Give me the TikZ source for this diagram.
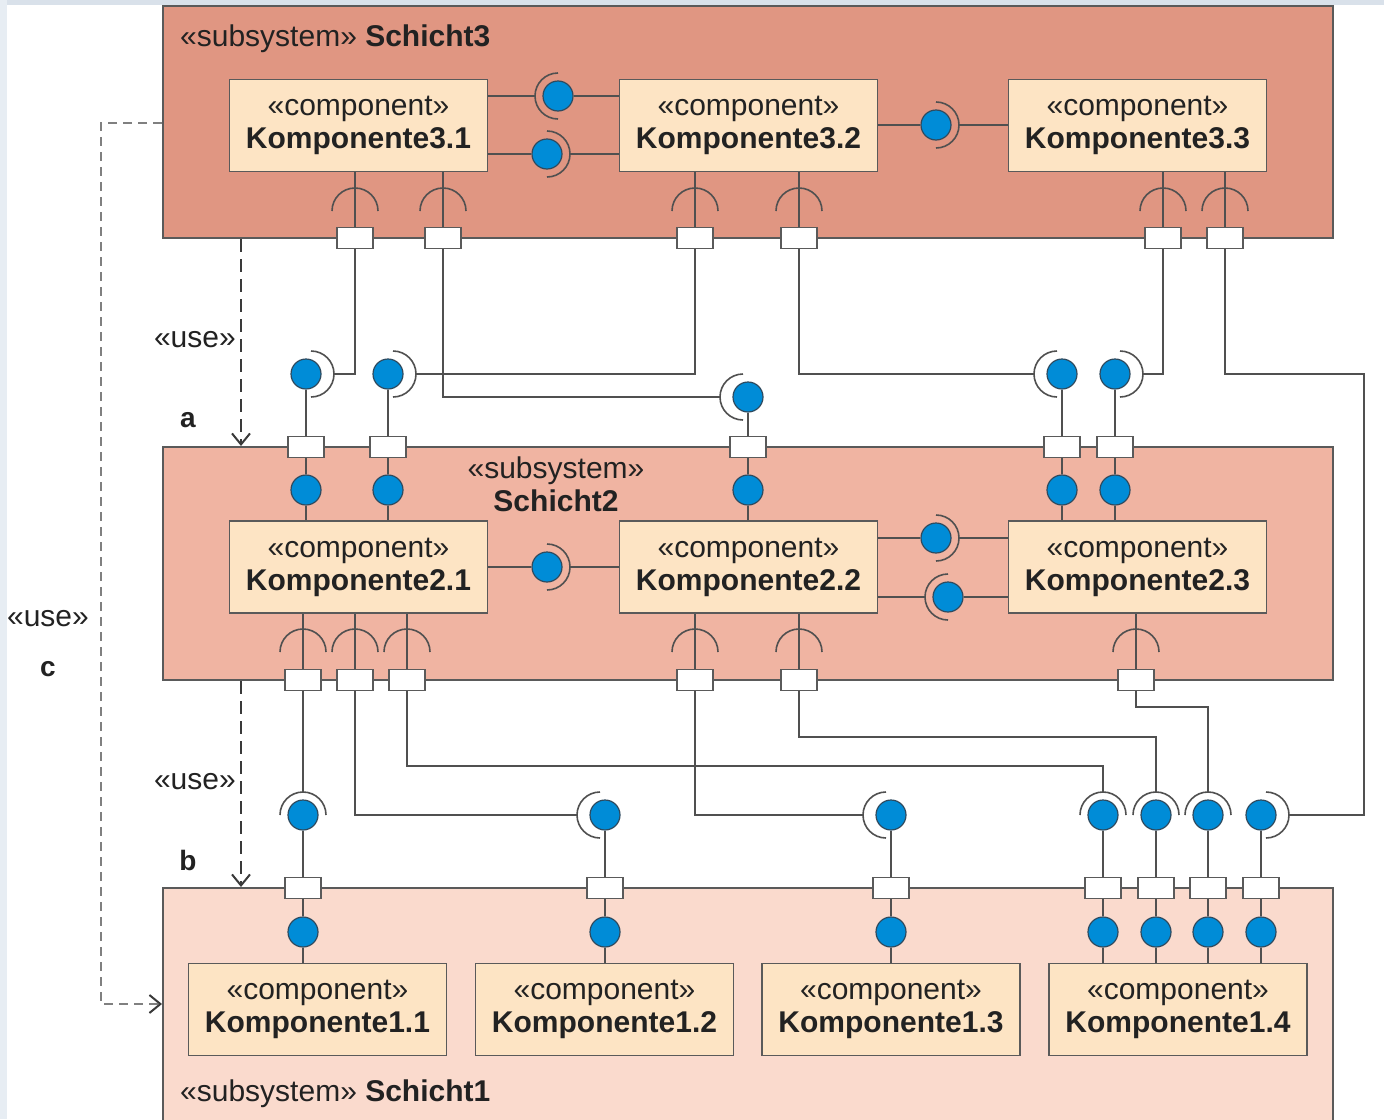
\documentclass[tikz,border=0pt]{standalone}
\usepackage{fontspec}
\setmainfont{Liberation Sans}
\usetikzlibrary{arrows.meta}

\definecolor{layerthree}{HTML}{E09682}
\definecolor{layertwo}{HTML}{F0B4A2}
\definecolor{layerone}{HTML}{FADACD}
\definecolor{compfill}{HTML}{FDE4C4}
\definecolor{ballblue}{HTML}{008CD7}
\definecolor{balledge}{HTML}{2F4A5E}
\definecolor{edgegray}{HTML}{5A5A5A}
\definecolor{wiregray}{HTML}{505050}
\definecolor{textdark}{HTML}{222222}
\definecolor{dashgray}{HTML}{3A3A3A}
\definecolor{dashlight}{HTML}{808080}
\definecolor{frametop}{HTML}{D9E1EA}
\definecolor{frameside}{HTML}{E7EDF3}

% socket arc around a ball: #1 ball, #2 direction, #3 offset of the arc centre
\newcommand\sockarc[3]{%
  \draw[sock] (#1.center) ++({#2}:{#3}) ++({#2-90}:23) arc[start angle={#2-90}, end angle={#2+90}, radius=23];
  \path (#1.center) ++({#2}:{#3+23}) coordinate (#1-tip);}

\begin{document}
\begin{tikzpicture}[x=1pt,y=-1pt,
  txt/.style={font=\fontsize{30}{33}\selectfont, text=textdark, inner sep=0pt},
  layerbox/.style={draw=edgegray, line width=2pt, inner sep=0pt},
  comp/.style={txt, draw=edgegray, fill=compfill, line width=1.8pt,
    minimum width=258, minimum height=92, align=center},
  port/.style={draw=edgegray, fill=white, line width=1.8pt,
    minimum width=36, minimum height=21, inner sep=0pt},
  ball/.style={circle, draw=balledge, fill=ballblue, line width=1.2pt,
    minimum size=30, inner sep=0pt},
  wire/.style={draw=wiregray, line width=1.8pt},
  sock/.style={draw=wiregray, line width=1.6pt},
  usedep/.style={draw=dashgray, line width=1.6pt, dash pattern=on 13pt off 7pt,
    -{Straight Barb[length=11pt,width=18pt,line width=2pt,color=dashgray]}},
  letter/.style={font=\fontsize{28}{30}\selectfont\bfseries, text=textdark, inner sep=0pt}]
\useasboundingbox (0,0) rectangle (1384,1119);

% window frame strips
\fill[frametop] (0,0) rectangle (1384,5);
\fill[frameside] (0,0) rectangle (7,1119);

% layers
\node[layerbox, fill=layerthree, minimum width=1170, minimum height=232] (s3) at (748,122) {};
\node[layerbox, fill=layertwo, minimum width=1170, minimum height=233] (s2) at (748,563.5) {};
\node[layerbox, fill=layerone, minimum width=1170, minimum height=250] (s1) at (748,1013) {};

\node[txt, anchor=base west] (t3) at (180,46) {«subsystem» \textbf{Schicht3}};
\node[txt, align=center] (t2) at (556,484) {«subsystem»\\\textbf{Schicht2}};
\node[txt, anchor=base west] (t1) at (180,1101) {«subsystem» \textbf{Schicht1}};

% components
\node[comp] (c31) at (358.5,125.5) {«component»\\\textbf{Komponente3.1}};
\node[comp] (c32) at (748.5,125.5) {«component»\\\textbf{Komponente3.2}};
\node[comp] (c33) at (1137.5,125.5) {«component»\\\textbf{Komponente3.3}};
\node[comp] (c21) at (358.5,567) {«component»\\\textbf{Komponente2.1}};
\node[comp] (c22) at (748.5,567) {«component»\\\textbf{Komponente2.2}};
\node[comp] (c23) at (1137.5,567) {«component»\\\textbf{Komponente2.3}};
\node[comp] (c11) at (317.5,1009.5) {«component»\\\textbf{Komponente1.1}};
\node[comp] (c12) at (604.5,1009.5) {«component»\\\textbf{Komponente1.2}};
\node[comp] (c13) at (891,1009.5) {«component»\\\textbf{Komponente1.3}};
\node[comp] (c14) at (1178,1009.5) {«component»\\\textbf{Komponente1.4}};

% ports of Schicht3
\foreach \n/\x in {p3a/355,p3b/443,p3c/695,p3d/799,p3e/1163,p3f/1225}
  \node[port] (\n) at (\x,238) {};
% ports of Schicht2
\foreach \n/\x in {q2a/306,q2b/388,q2c/748,q2d/1062,q2e/1115}
  \node[port] (\n) at (\x,447) {};
\foreach \n/\x in {p2a/303,p2b/355,p2c/407,p2d/695,p2e/799,p2f/1136}
  \node[port] (\n) at (\x,680) {};
% ports of Schicht1
\foreach \n/\x in {q1a/303,q1b/605,q1c/891,q1d/1103,q1e/1156,q1f/1208,q1g/1261}
  \node[port] (\n) at (\x,888) {};

% required interfaces inside Schicht3 and Schicht2
\foreach \p/\c in {p3a/c31,p3b/c31,p3c/c32,p3d/c32,p3e/c33,p3f/c33}{
  \draw[wire] (\p.north) -- (\p.north |- \c.south);
  \draw[sock] (\p.center) ++(-23,-27) arc[start angle=180, end angle=360, radius=23];
}
\foreach \p/\c in {p2a/c21,p2b/c21,p2c/c21,p2d/c22,p2e/c22,p2f/c23}{
  \draw[wire] (\p.north) -- (\p.north |- \c.south);
  \draw[sock] (\p.center) ++(-23,-28) arc[start angle=180, end angle=360, radius=23];
}

% assembly connectors inside Schicht3
\node[ball] (bA) at (558,96) {};
\node[ball] (bB) at (547,154) {};
\node[ball] (bC) at (936,125) {};
\sockarc{bA}{180}{0}
\sockarc{bB}{0}{0}
\sockarc{bC}{0}{0}
\draw[wire] (bA.center -| c31.east) -- (bA-tip);
\draw[wire] (bA.east) -- (bA.center -| c32.west);
\draw[wire] (bB.center -| c31.east) -- (bB.west);
\draw[wire] (bB-tip) -- (bB.center -| c32.west);
\draw[wire] (bC.center -| c32.east) -- (bC.west);
\draw[wire] (bC-tip) -- (bC.center -| c33.west);

% assembly connectors inside Schicht2
\node[ball] (bD) at (547,567) {};
\node[ball] (bE) at (936,538) {};
\node[ball] (bF) at (948,597) {};
\sockarc{bD}{0}{0}
\sockarc{bE}{0}{0}
\sockarc{bF}{180}{0}
\draw[wire] (bD.center -| c21.east) -- (bD.west);
\draw[wire] (bD-tip) -- (bD.center -| c22.west);
\draw[wire] (bE.center -| c22.east) -- (bE.west);
\draw[wire] (bE-tip) -- (bE.center -| c23.west);
\draw[wire] (bF.center -| c22.east) -- (bF-tip);
\draw[wire] (bF.east) -- (bF.center -| c23.west);

% provided interfaces of Schicht2
\foreach \n/\x in {i2a/306,i2b/388,i2c/748,i2d/1062,i2e/1115}
  \node[ball] (\n) at (\x,490) {};
\node[ball] (o2a) at (306,374) {};
\node[ball] (o2b) at (388,374) {};
\node[ball] (o2c) at (748,397) {};
\node[ball] (o2d) at (1062,374) {};
\node[ball] (o2e) at (1115,374) {};
\sockarc{o2a}{0}{5}
\sockarc{o2b}{0}{5}
\sockarc{o2c}{180}{5}
\sockarc{o2d}{180}{5}
\sockarc{o2e}{0}{5}
\foreach \q/\i/\o/\c in {q2a/i2a/o2a/c21,q2b/i2b/o2b/c21,q2c/i2c/o2c/c22,q2d/i2d/o2d/c23,q2e/i2e/o2e/c23}{
  \draw[wire] (\q.north) -- (\o.south);
  \draw[wire] (\q.south) -- (\i.north);
  \draw[wire] (\i.south) -- (\i.south |- \c.north);
}

% provided interfaces of Schicht1
\foreach \n/\x in {i1a/303,i1b/605,i1c/891,i1d/1103,i1e/1156,i1f/1208,i1g/1261}
  \node[ball] (\n) at (\x,932) {};
\foreach \n/\x in {o1a/303,o1b/605,o1c/891,o1d/1103,o1e/1156,o1f/1208,o1g/1261}
  \node[ball] (\n) at (\x,815) {};
\sockarc{o1a}{270}{0}
\sockarc{o1b}{180}{5}
\sockarc{o1c}{180}{5}
\sockarc{o1d}{270}{0}
\sockarc{o1e}{270}{0}
\sockarc{o1f}{270}{0}
\sockarc{o1g}{0}{5}
\foreach \q/\i/\o/\c in {q1a/i1a/o1a/c11,q1b/i1b/o1b/c12,q1c/i1c/o1c/c13,q1d/i1d/o1d/c14,q1e/i1e/o1e/c14,q1f/i1f/o1f/c14,q1g/i1g/o1g/c14}{
  \draw[wire] (\q.north) -- (\o.south);
  \draw[wire] (\q.south) -- (\i.north);
  \draw[wire] (\i.south) -- (\i.south |- \c.north);
}

% wiring Schicht3 -> Schicht2
\draw[wire] (p3a.south) |- (o2a-tip);
\draw[wire] (p3b.south) |- (o2c-tip);
\draw[wire] (p3c.south) |- (o2b-tip);
\draw[wire] (p3d.south) |- (o2d-tip);
\draw[wire] (p3e.south) |- (o2e-tip);
% wiring Schicht3 -> Schicht1
\coordinate (rA) at (1364,374);
\draw[wire] (p3f.south) |- (rA) |- (o1g-tip);
% wiring Schicht2 -> Schicht1
\draw[wire] (p2a.south) -- (o1a-tip);
\draw[wire] (p2b.south) |- (o1b-tip);
\coordinate (jA) at (1103,766);
\draw[wire] (p2c.south) |- (jA) -- (o1d-tip);
\draw[wire] (p2d.south) |- (o1c-tip);
\coordinate (jB) at (1156,737);
\draw[wire] (p2e.south) |- (jB) -- (o1e-tip);
\coordinate (jC) at (1208,707);
\draw[wire] (p2f.south) |- (jC) -- (o1f-tip);

% use dependencies
\coordinate (ux) at (241,0);
\draw[usedep] (s3.south -| ux) -- (s2.north -| ux);
\draw[usedep] (s2.south -| ux) -- (s1.north -| ux);
\coordinate (cA) at (101,123);
\coordinate (cB) at (101,1004);
\draw[usedep, draw=dashlight, dash pattern=on 9pt off 6pt] (s3.west |- cA) -- (cA) -- (cB) -- (s1.west |- cB);

\node[txt, anchor=east] (ua) at (236,340) {«use»};
\node[txt, anchor=east] (ub) at (236,782) {«use»};
\node[txt] (uc) at (48,619) {«use»};
\node[letter] (la) at (188,420) {a};
\node[letter] (lb) at (188,860) {b};
\node[letter] (lc) at (48,669) {c};
\end{tikzpicture}
\end{document}
